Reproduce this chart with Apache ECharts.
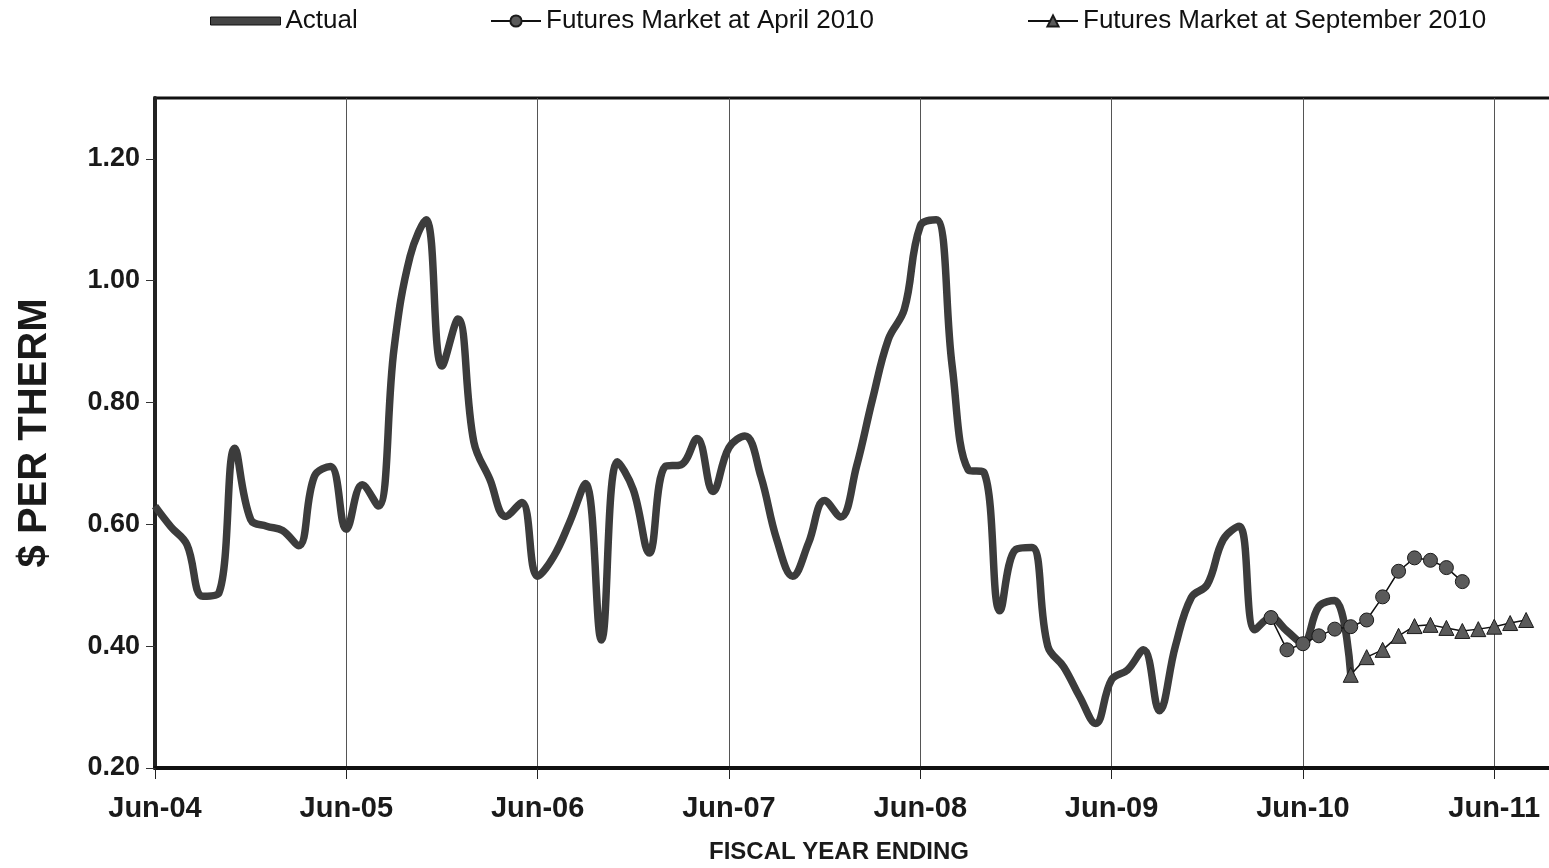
<!DOCTYPE html>
<html>
<head>
<meta charset="utf-8">
<title>$ per Therm</title>
<script src="https://cdn.jsdelivr.net/npm/echarts@6/dist/echarts.min.js"></script>
<style>
  html, body { margin: 0; padding: 0; background: #fff; }
  #chart { width: 1549px; height: 868px; }
</style>
</head>
<body>
<div id="chart"></div>
<script>
// Monthly gas price, $ per therm. Month 0 = Jun-04.
const yearLabels = ['Jun-04', 'Jun-05', 'Jun-06', 'Jun-07', 'Jun-08', 'Jun-09', 'Jun-10', 'Jun-11'];

const actualStart = 0;
const actualValues = [
  0.630, 0.596, 0.567, 0.482, 0.487, 0.725, 0.608, 0.597, 0.590, 0.565, 0.679, 0.695,
  0.592, 0.665, 0.630, 0.890, 1.040, 1.100, 0.860, 0.937, 0.735, 0.674, 0.613, 0.636,
  0.515, 0.547, 0.603, 0.667, 0.410, 0.703, 0.657, 0.553, 0.695, 0.698, 0.741, 0.654,
  0.726, 0.745, 0.679, 0.575, 0.515, 0.570, 0.639, 0.612, 0.695, 0.805, 0.904, 0.953,
  1.090, 1.100, 0.860, 0.690, 0.685, 0.458, 0.559, 0.562, 0.400, 0.366, 0.317, 0.273,
  0.345, 0.361, 0.394, 0.294, 0.400, 0.480, 0.501, 0.575, 0.597, 0.427, 0.447, 0.425,
  0.405, 0.465, 0.475, 0.353
];

// Futures strip as of April 2010 (starts Apr-10)
const aprilStart = 70;
const aprilValues = [0.447, 0.394, 0.404, 0.417, 0.428, 0.432, 0.443, 0.481, 0.523, 0.545, 0.541, 0.529, 0.506];

// Futures strip as of September 2010 (starts Sep-10)
const septStart = 75;
const septValues = [0.353, 0.382, 0.394, 0.417, 0.433, 0.435, 0.430, 0.425, 0.428, 0.432, 0.438, 0.443];

const yTicks = { min: 0.2, max: 1.3, step: 0.2 };

function toPairs(start, values) {
  return values.map((v, i) => [start + i, v]);
}

const FONT = '"Liberation Sans", Arial, sans-serif';
const chart = echarts.init(document.getElementById('chart'), null, { renderer: 'canvas' });

const legendText = { fontFamily: FONT, fontSize: 26, color: '#111' };

chart.setOption({
  animation: false,
  backgroundColor: '#fff',
  legend: [
    {
      data: ['Actual'], left: 205, top: 3, itemWidth: 70, itemHeight: 8,
      textStyle: legendText, icon: 'rect',
      itemStyle: { color: '#444', borderColor: '#111', borderWidth: 1 }
    },
    {
      data: ['Futures Market at April 2010'], left: 485, top: 3, itemWidth: 50, itemHeight: 14,
      textStyle: legendText
    },
    {
      data: ['Futures Market at September 2010'], left: 1022, top: 3, itemWidth: 50, itemHeight: 14,
      textStyle: legendText
    }
  ],
  grid: {
    left: 155, top: 98, width: 1403, bottom: 100,
    containLabel: false, outerBoundsMode: 'none',
    show: true, borderColor: '#111', borderWidth: 3, backgroundColor: 'transparent'
  },
  xAxis: {
    type: 'value', min: 0, max: 88, interval: 12,
    axisLine: { show: true, lineStyle: { color: '#111', width: 4 } },
    axisTick: { show: true, length: 11, lineStyle: { color: '#222', width: 1 } },
    axisLabel: {
      showMaxLabel: false, margin: 26,
      fontFamily: FONT, fontSize: 29, fontWeight: 'bold', color: '#1a1a1a',
      formatter: v => yearLabels[Math.round(v / 12)] || ''
    },
    splitLine: { show: true, lineStyle: { color: '#555', width: 1 } }
  },
  yAxis: {
    type: 'value', min: yTicks.min, max: yTicks.max, interval: yTicks.step,
    name: '$ PER THERM', nameLocation: 'middle', nameGap: 100,
    nameTextStyle: { fontFamily: FONT, fontSize: 40, fontWeight: 'bold', color: '#1a1a1a' },
    axisLine: { show: true, lineStyle: { color: '#222', width: 4 } },
    axisTick: { show: true, length: 9, lineStyle: { color: '#333', width: 1 } },
    axisLabel: {
      showMaxLabel: false, margin: 15,
      fontFamily: FONT, fontSize: 27, fontWeight: 'bold', color: '#1a1a1a',
      formatter: v => v.toFixed(2)
    },
    splitLine: { show: false }
  },
  graphic: [
    {
      type: 'text', x: 839, y: 852,
      style: {
        text: 'FISCAL YEAR ENDING', fill: '#1a1a1a',
        font: 'bold 24px "Liberation Sans", Arial, sans-serif',
        textAlign: 'center', textVerticalAlign: 'middle'
      }
    }
  ],
  series: [
    {
      name: 'Actual', type: 'line', data: toPairs(actualStart, actualValues),
      smooth: 0.4, showSymbol: false, symbol: 'none', z: 3,
      lineStyle: { color: '#3c3c3c', width: 7.5 },
      itemStyle: { color: '#3c3c3c' }
    },
    {
      name: 'Futures Market at April 2010', type: 'line', data: toPairs(aprilStart, aprilValues),
      symbol: 'circle', symbolSize: 14, z: 4,
      lineStyle: { color: '#111', width: 1.5 },
      itemStyle: { color: '#5a5a5a', borderColor: '#1a1a1a', borderWidth: 1 }
    },
    {
      name: 'Futures Market at September 2010', type: 'line', data: toPairs(septStart, septValues),
      symbol: 'triangle', symbolSize: 15, z: 4,
      lineStyle: { color: '#111', width: 1.5 },
      itemStyle: { color: '#5a5a5a', borderColor: '#1a1a1a', borderWidth: 1 }
    }
  ]
});
</script>
</body>
</html>
